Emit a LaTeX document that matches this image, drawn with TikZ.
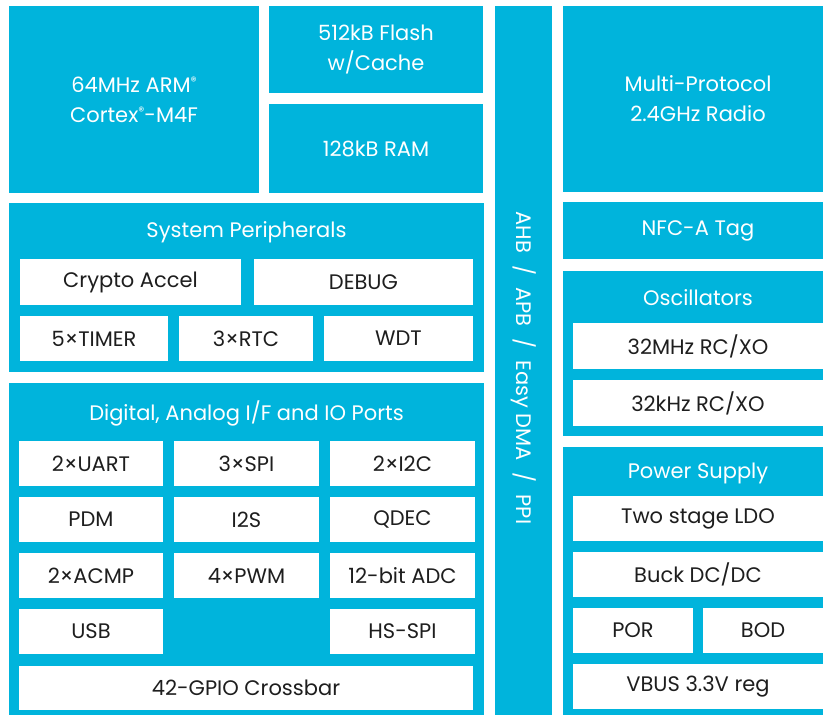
\documentclass[tikz,border=0pt]{standalone}
\usepackage{fontspec}
\setmainfont{Poppins}
\definecolor{nblue}{HTML}{00B4DC}
\definecolor{ntext}{HTML}{1E1E1E}
\newcommand{\regm}{\raisebox{0.6ex}{\fontsize{12}{12}\selectfont ®}}
\newcommand{\bsp}{\hspace{12pt}}
\tikzset{
  bluebox/.style={fill=nblue, draw=none, inner sep=0pt, outer sep=0pt},
  whitebox/.style={fill=white, draw=none, inner sep=0pt, outer sep=0pt},
  wtext/.style={text=white, font=\fontsize{21}{30}\selectfont, align=center, inner sep=0pt},
  dtext/.style={text=ntext, font=\fontsize{21}{30}\selectfont, align=center, inner sep=0pt},
}
\newcommand{\wbox}[6]{\path[whitebox] (#2,#3) rectangle (#4,#5) coordinate[pos=.5] (#1);
  \node[dtext] (#1t) at (#1) {#6};}
\begin{document}
\begin{tikzpicture}[x=1pt,y=-1pt]
\useasboundingbox (0,0) rectangle (823,715);
\fill[white] (0,0) rectangle (823,715);
\begin{scope}
\clip (0,0) rectangle (823,715);
% top-left
\path[bluebox] (9,6) rectangle (259,193) coordinate[pos=.5] (cpu);
\node[wtext] (cput) at (cpu) {64MHz ARM\regm\\Cortex\regm-M4F};
\path[bluebox] (269,6) rectangle (483,93) coordinate[pos=.5] (flash);
\node[wtext] (flasht) at (flash) {512kB Flash\\w/Cache};
\path[bluebox] (269,104) rectangle (483,193) coordinate[pos=.5] (ram);
\node[wtext] (ramt) at (ram) {128kB RAM};
% bus
\path[bluebox] (495,6) rectangle (552,725) coordinate (busc);
\node[wtext, rotate=-90] (bust) at (523.5,368) {AHB\bsp/\bsp APB\bsp/\bsp Easy DMA\bsp/\bsp PPI};
% right column
\path[bluebox] (563,6) rectangle (833,192) coordinate[pos=.5] (radio);
\node[wtext] (radiot) at (radio) {Multi-Protocol\\2.4GHz Radio};
\path[bluebox] (563,202) rectangle (833,259) coordinate[pos=.5] (nfc);
\node[wtext] (nfct) at (nfc) {NFC-A Tag};
\path[bluebox] (563,271) rectangle (833,436) coordinate (osc);
\node[wtext] (osct) at (698,298) {Oscillators};
\wbox{mhz}{573}{323}{823}{369}{32MHz RC/XO}
\wbox{khz}{573}{380}{823}{426}{32kHz RC/XO}
\path[bluebox] (563,447) rectangle (833,725) coordinate (pwr);
\node[wtext] (pwrt) at (698,473) {Power Supply};
\wbox{ldo}{573}{496}{823}{541}{Two stage LDO}
\wbox{buck}{573}{552}{823}{597}{Buck DC/DC}
\wbox{por}{573}{608}{693}{653}{POR}
\wbox{bod}{703}{608}{823}{653}{BOD}
\wbox{vbus}{573}{664}{823}{709}{VBUS 3.3V reg}
% system peripherals
\path[bluebox] (9,203) rectangle (484,372) coordinate (sys);
\node[wtext] (syst) at (246.5,232) {System Peripherals};
\wbox{crypto}{20}{259}{241}{305}{Crypto Accel}
\wbox{debug}{254}{259}{473}{305}{DEBUG}
\wbox{timer}{20}{316}{168}{361}{5×TIMER}
\wbox{rtc}{179}{316}{313}{361}{3×RTC}
\wbox{wdt}{324}{316}{473}{361}{WDT}
% digital
\path[bluebox] (9,383) rectangle (484,725) coordinate (dig);
\node[wtext] (digt) at (246.5,413) {Digital, Analog I/F and IO Ports};
\wbox{uart}{19}{441}{163}{486}{2×UART}
\wbox{spi}{174}{441}{319}{486}{3×SPI}
\wbox{itc}{330}{441}{475}{486}{2×I2C}
\wbox{pdm}{19}{497}{163}{542}{PDM}
\wbox{iis}{174}{497}{319}{542}{I2S}
\wbox{qdec}{330}{497}{475}{542}{QDEC}
\wbox{acmp}{19}{553}{163}{598}{2×ACMP}
\wbox{pwm}{174}{553}{319}{598}{4×PWM}
\wbox{adc}{330}{553}{475}{598}{12-bit ADC}
\wbox{usb}{19}{609}{163}{654}{USB}
\wbox{hsspi}{330}{609}{475}{654}{HS-SPI}
\wbox{gpio}{19}{666}{473}{710}{42-GPIO Crossbar}
\end{scope}
\end{tikzpicture}
\end{document}
